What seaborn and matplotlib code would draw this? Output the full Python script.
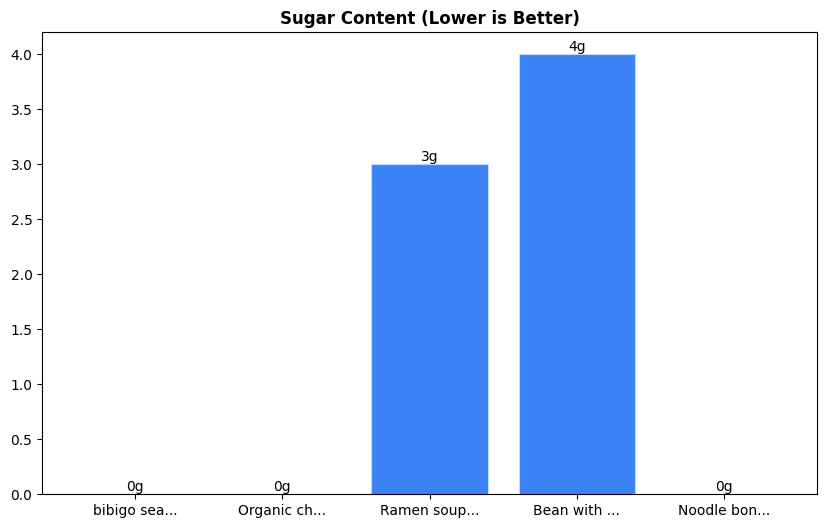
import matplotlib
matplotlib.use("Agg")
import matplotlib.pyplot as plt
import seaborn as sns
import pandas as pd

products = ["bibigo sea...", "Organic ch...", "Ramen soup...", "Bean with ...", "Noodle bon..."]
sugar = [0, 0, 3, 4, 0]

df = pd.DataFrame({"product": products, "sugar": sugar})
fig, ax = plt.subplots(figsize=(8.26, 5.28), dpi=100)
sns.barplot(data=df, x="product", y="sugar", color="#3b82f6", saturation=1,
            edgecolor="#bfdbfe", linewidth=0.8, width=0.79, ax=ax)
for i, v in enumerate(sugar):
    ax.text(i, v, f"{v}g", ha="center", va="bottom", fontsize=10)
ax.set_xlim(-0.63, 4.63)
ax.set_title("Sugar Content (Lower is Better)", fontweight="bold", fontsize=12)
ax.set_xlabel("")
ax.set_ylabel("")
plt.subplots_adjust(left=0.051, right=0.989, top=0.939, bottom=0.064)
fig.savefig("out.png", dpi=100)
